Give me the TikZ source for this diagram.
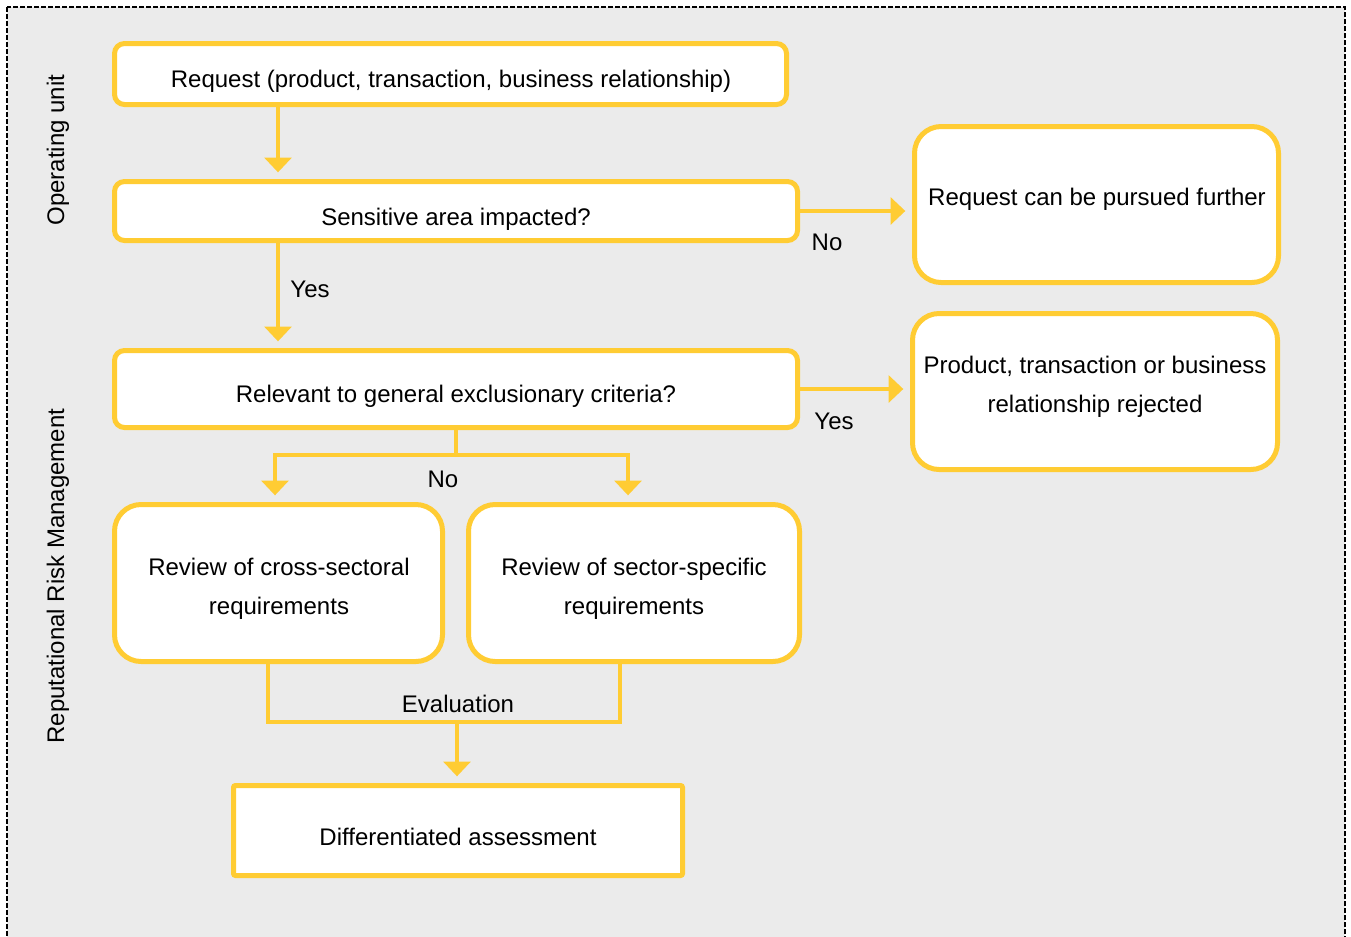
\documentclass[tikz,border=0pt]{standalone}
\usepackage{fontspec}
\setmainfont{Liberation Sans}
\usepackage{tikz}
\usetikzlibrary{arrows.meta, fit}

\definecolor{rrmyellow}{RGB}{255,204,51}
\definecolor{rrmgrey}{RGB}{235,235,235}

\tikzset{
  box/.style={draw=rrmyellow, line width=3.75pt, fill=white, rounded corners=7.5pt, inner sep=0pt},
  bigbox/.style={box, rounded corners=20pt},
  flatbox/.style={box, rounded corners=1.5pt},
  txt/.style={font=\fontsize{18pt}{29.5pt}\selectfont, align=center, inner sep=0.75pt},
  link/.style={draw=rrmyellow, line width=3pt},
  flow/.style={link, -{Triangle[width=20pt,length=11pt]}, shorten >=5pt},
}

\begin{document}
\begin{tikzpicture}[x=0.75pt,y=0.75pt,yscale=-1,xscale=1]
        \useasboundingbox (0,0) rectangle (1351,936);
        \clip (0,0) rectangle (1351,936);
        
        %Shape: Dashed frame
        \draw [fill=rrmgrey, line width=1.1pt, dash pattern=on 3.75pt off 1.5pt] (7,7) rectangle (1345,960);
        
        % Text Node
        \node [txt, rotate=90] (opunit) at (58,150) {Operating unit};
        % Text Node
        \node [txt, rotate=90] (rrm) at (58,576) {Reputational Risk Management};
        
        %Shape: Boxes
        \node [box, fit={(114.5,43.5) (786.5,104.5)}] (req) {};
        \node [box, fit={(114.5,181.5) (797.5,240.5)}] (sens) {};
        \node [bigbox, fit={(914.5,126.5) (1278.5,282.5)}] (pursued) {};
        \node [box, fit={(114.5,350.5) (797.5,427.5)}] (rel) {};
        \node [bigbox, fit={(912.5,313.5) (1277.5,469.5)}] (rejected) {};
        \node [bigbox, fit={(114.5,504.5) (442.5,661.5)}] (cross) {};
        \node [bigbox, fit={(468.5,504.5) (799.5,661.5)}] (sector) {};
        \node [flatbox, fit={(233.5,785.5) (682.5,875.5)}] (diff) {};
        
        % Text Node
        \node [txt] (req-t) at (451,81) {Request (product, transaction, business relationship)};
        % Text Node
        \node [txt] (sens-t) at (456,219) {Sensitive area impacted?};
        % Text Node
        \node [txt] (pursued-t) at (1097,199) {Request can be pursued further};
        % Text Node
        \node [txt] (rel-t) at (456,396) {Relevant to general exclusionary criteria?};
        % Text Node
        \node [txt] (rejected-t) at (1095,387) {Product, transaction or business\\relationship rejected};
        % Text Node
        \node [txt] (cross-t) at (279,589) {Review of cross-sectoral\\requirements};
        % Text Node
        \node [txt] (sector-t) at (634,589) {Review of sector-specific\\requirements};
        % Text Node
        \node [txt] (diff-t) at (458,837) {Differentiated assessment};
        
        %Connectors
        \coordinate (spine) at (278,0);
        \coordinate (noL) at (275,0);
        \coordinate (noR) at (628,0);
        \coordinate (split) at (456,455);
        \coordinate (evL) at (268,0);
        \coordinate (evR) at (620,0);
        \coordinate (join) at (457,722);
        
        \draw [flow] (req.south -| spine) -- (sens.north -| spine);
        \draw [flow] (sens.south -| spine) -- (rel.north -| spine);
        \draw [flow] (sens.east) -- (sens.east -| pursued.west);
        \draw [flow] (rel.east) -- (rel.east -| rejected.west);
        \draw [link] (rel.south) -- (split);
        \draw [flow] (split) -| (noL |- cross.north);
        \draw [flow] (split) -| (noR |- sector.north);
        \draw [link] (evL |- cross.south) |- (join) -| (evR |- sector.south);
        \draw [flow] (join) -- (join |- diff.north);
        
        % Text Node
        \node [txt] (yes1) at (310,289) {Yes};
        % Text Node
        \node [txt] (no1) at (827,242) {No};
        % Text Node
        \node [txt] (yes2) at (834,421) {Yes};
        % Text Node
        \node [txt] (no2) at (443,479) {No};
        % Text Node
        \node [txt] (eval) at (458,704) {Evaluation};
        
\end{tikzpicture}
\end{document}
